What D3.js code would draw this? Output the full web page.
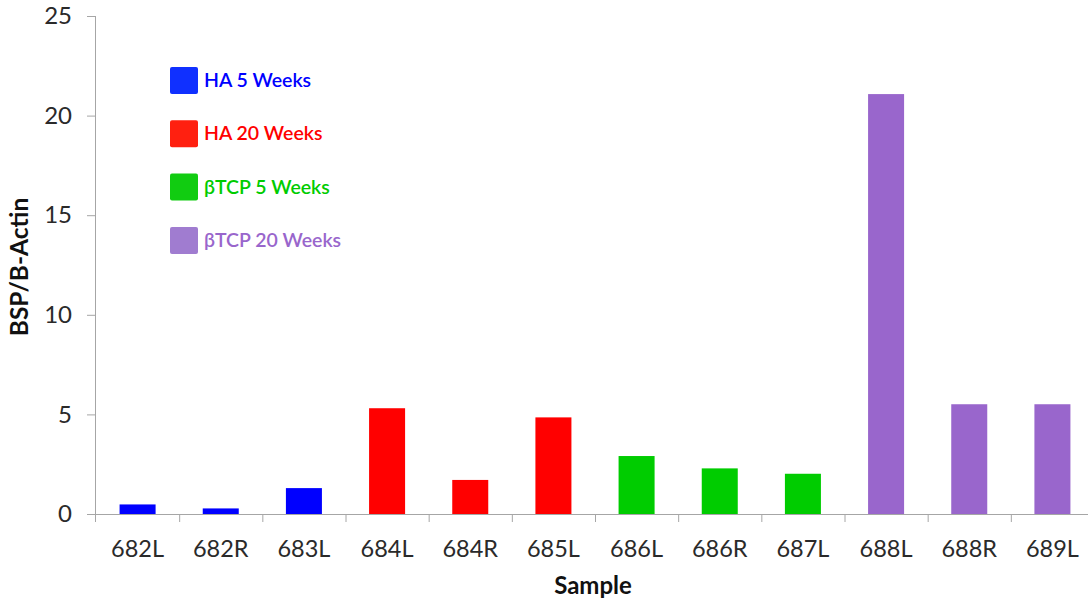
<!DOCTYPE html>
<html>
<head>
<meta charset="utf-8">
<script src="https://cdn.jsdelivr.net/npm/d3@7/dist/d3.min.js"></script>
<style>
  html, body { margin: 0; padding: 0; background: #fff; }
  svg { display: block; }
  text { font-family: Lato, "Open Sans", sans-serif; }
</style>
</head>
<body>
<svg id="chart" width="1088" height="605"></svg>
<script>
// Samples along the x axis
const samples = ["682L", "682R", "683L", "684L", "684R", "685L", "686L", "686R", "687L", "688L", "688R", "689L"];
// BSP expression normalised to B-Actin, one value per sample
const values = [0.48, 0.28, 1.3, 5.31, 1.71, 4.85, 2.91, 2.29, 2.02, 21.08, 5.51, 5.51];
// Treatment group of each sample
const groups = ["HA 5 Weeks", "HA 5 Weeks", "HA 5 Weeks", "HA 20 Weeks", "HA 20 Weeks", "HA 20 Weeks",
                "βTCP 5 Weeks", "βTCP 5 Weeks", "βTCP 5 Weeks", "βTCP 20 Weeks", "βTCP 20 Weeks", "βTCP 20 Weeks"];
// Legend entries and their colours
const groupNames = ["HA 5 Weeks", "HA 20 Weeks", "βTCP 5 Weeks", "βTCP 20 Weeks"];
const groupColors = ["#0000ff", "#ff0000", "#00cc00", "#9966cc"];
const legendSwatch = ["#1030ff", "#ff2010", "#11cc11", "#a07cd0"];
const yTicks = [0, 5, 10, 15, 20, 25];

const svg = d3.select("#chart");
const plotLeft = 96, plotRight = 1094, plotTop = 16, plotBottom = 514;

const x = d3.scaleBand().domain(samples).range([plotLeft, plotRight])
  .paddingInner(0.567).paddingOuter(0.2835);
const y = d3.scaleLinear().domain([0, 25]).range([plotBottom, plotTop]);
const color = d3.scaleOrdinal().domain(groupNames).range(groupColors);
const axisColor = "#a6a6a6";

// y axis
const yAxis = svg.append("g").attr("transform", `translate(${plotLeft},0)`)
  .call(d3.axisLeft(y).tickValues(yTicks).tickSize(9).tickPadding(15));
yAxis.select(".domain").attr("stroke", axisColor).attr("d", `M-0.5,${plotTop}V${plotBottom + 8}`);
yAxis.selectAll(".tick line").attr("stroke", axisColor);
yAxis.selectAll(".tick text").attr("font-size", 24).attr("fill", "#2a2a2a").attr("font-family", "Lato, sans-serif");

// bars
svg.append("g").selectAll("rect").data(samples).join("rect")
  .attr("x", d => x(d))
  .attr("width", x.bandwidth())
  .attr("y", (d, i) => y(values[i]))
  .attr("height", (d, i) => y(0) - y(values[i]))
  .attr("fill", (d, i) => color(groups[i]));

// x axis with ticks between categories
const xg = svg.append("g").attr("transform", `translate(0,${plotBottom})`);
xg.append("line").attr("x1", plotLeft).attr("x2", 1088).attr("y1", 0.5).attr("y2", 0.5)
  .attr("stroke", axisColor);
const step = x.step();
xg.selectAll("line.sep").data(samples).join("line").attr("class", "sep")
  .attr("x1", d => x(d) - x.paddingOuter() * step + step + 0.5)
  .attr("x2", d => x(d) - x.paddingOuter() * step + step + 0.5)
  .attr("y1", 0).attr("y2", 8).attr("stroke", axisColor);
xg.selectAll("text").data(samples).join("text")
  .attr("x", d => x(d) + x.bandwidth() / 2)
  .attr("y", 43)
  .attr("text-anchor", "middle")
  .attr("font-size", 23.5).attr("fill", "#2a2a2a")
  .text(d => d);

// axis titles
svg.append("text").attr("x", 593).attr("y", 594).attr("text-anchor", "middle")
  .attr("font-size", 24).attr("font-weight", "bold").attr("fill", "#111").text("Sample");
svg.append("text").attr("transform", "translate(28,267) rotate(-90)").attr("text-anchor", "middle")
  .attr("font-size", 24.5).attr("font-weight", "bold").attr("fill", "#111").text("BSP/B-Actin");

// legend
const lg = svg.append("g").attr("transform", "translate(170,67)");
const items = lg.selectAll("g").data(groupNames).join("g")
  .attr("transform", (d, i) => `translate(0,${i * 53.3})`);
items.append("rect").attr("width", 28).attr("height", 27).attr("rx", 2)
  .attr("fill", (d, i) => legendSwatch[i]);
items.append("text").attr("x", 34).attr("y", 20)
  .attr("font-size", 19.5).attr("font-weight", 600)
  .attr("fill", (d, i) => groupColors[i]).text(d => d);
</script>
</body>
</html>
